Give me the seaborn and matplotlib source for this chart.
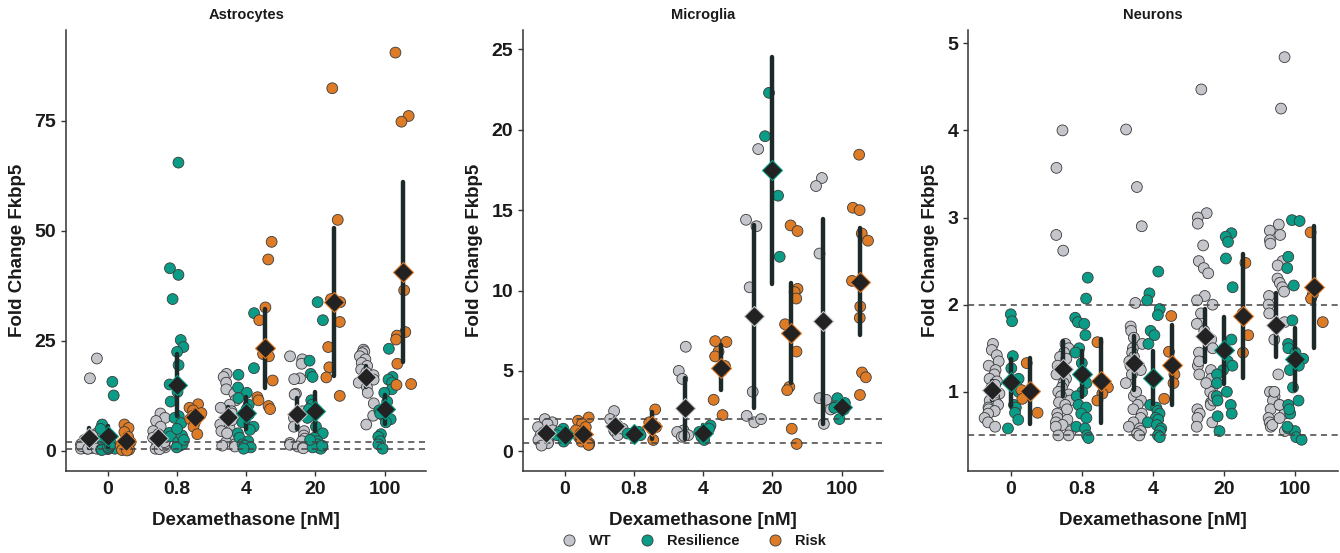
import numpy as np
import pandas as pd
import seaborn as sns
import matplotlib.pyplot as plt
from matplotlib.lines import Line2D

# dose levels and genotypes
doses = ["0", "0.8", "4", "20", "100"]
genotypes = ["WT", "Resilience", "Risk"]
colors = ["#c4c6cc", "#0a9c86", "#de7b26"]

# fold change values, one sublist per dose
astro_wt = [
    [21, 16.5, 4, 3, 3.5, 2.5, 2, 1.5, 1.2, 1, 1, 0.9, 0.8, 0.8, 0.7, 0.6, 0.5, 0.5, 1.1, 0.9, 0.5, 0.5],
    [8.5, 7.5, 6.8, 5.5, 4.5, 3.8, 3, 2.3, 1.8, 1.4, 1, 0.8, 0.6, 0.5, 0.4, 1.2, 2],
    [17.5, 16.8, 15.5, 14, 13, 11.5, 10.5, 9.8, 9, 8.2, 7.5, 6.8, 6, 5.2, 4.5, 3.5, 2.5, 2, 1.5, 1.2, 1, 4, 7, 8.5],
    [21.5, 20.8, 19.8, 16.5, 16.3, 13, 12.8, 9, 7.5, 5.5, 4.5, 3.5, 2.8, 2.2, 1.8, 1.4, 1.0, 0.8, 0.6],
    [23, 22.6, 22.2, 21.5, 20.8, 20, 19.3, 18.5, 17.8, 17.2, 16.8, 16.2, 15.5, 14.5, 13.2, 10.8, 8, 6],
]
astro_res = [
    [15.7, 12.6, 6, 5, 3.5, 2.5, 1.5, 1, 0.8, 0.5, 0.4, 0.3, 0.2, 0.6, 0.9, 1.2],
    [65.5, 41.5, 40, 34.5, 25.2, 23.6, 22.5, 19.5, 15.1, 13.4, 11.2, 7.9, 7.5, 6.3, 4.1, 3.3, 1.2, 1.0, 2.0, 1.5, 0.8, 3.5, 5, 2.5],
    [31.3, 18.8, 17.3, 14.4, 13.2, 12, 10.5, 9.5, 8.3, 7.2, 6.5, 5.5, 4.8, 4, 3, 2.2, 1.5, 1.2, 0.8, 0.5],
    [33.8, 29.7, 20.5, 17.5, 16.8, 11.5, 10.5, 9.5, 8.5, 7.5, 5.5, 4, 3, 2.2, 1.5, 1, 0.7, 0.5, 0.8, 1.2, 2.5],
    [23.2, 16.8, 16.2, 15.5, 14, 13.2, 11.2, 9.2, 8, 7.2, 6.5, 3.8, 3.2, 2.2, 1.5, 8.5, 0.5],
]
astro_risk = [
    [6, 5.2, 4.3, 3.2, 2.0, 1.2, 0.8, 0.5, 0.3, 0.2, 0.1],
    [10.6, 9.8, 9.2, 8.6, 8.0, 7.2, 6.5, 5.5, 3.8],
    [47.5, 43.5, 32.6, 29.7, 22, 21.5, 16, 12.2, 11.5, 10.2, 9.5],
    [82.4, 52.5, 34.5, 33.8, 29.3, 23.6, 19, 16.7, 12.5],
    [90.5, 76.1, 74.8, 36.5, 27, 26.2, 25.3, 19.8, 15.2, 15],
]

micro_wt = [
    [2.0, 1.8, 1.7, 1.5, 1.3, 1.2, 1.0, 0.9, 0.8, 0.7, 0.6, 0.5, 0.35],
    [2.5, 2.0, 1.6, 1.3, 1.2, 1.0, 1.4],
    [6.5, 5.0, 4.5, 1.3, 1.2, 1.0, 0.9, 0.95],
    [18.8, 14.4, 14.0, 10.2, 3.7, 2.2, 1.8, 2.0],
    [17.0, 16.5, 12.3, 3.3, 3.2, 2.6, 1.7],
]
micro_res = [
    [1.4, 1.2, 1.0, 0.8, 0.6],
    [1.2, 1.1, 1.0],
    [1.6, 1.4, 1.2, 0.9, 0.7],
    [22.3, 19.6, 15.9, 12.1],
    [3.3, 3.0, 2.8, 2.7, 2.6, 2.0],
]
micro_risk = [
    [2.1, 1.9, 1.7, 1.5, 1.3, 1.1, 1.0, 0.9, 0.8, 0.7, 0.6, 0.5, 0.4, 0.4],
    [2.6, 1.8, 1.5, 1.4, 0.7],
    [6.85, 6.8, 6.2, 5.9, 5.3, 5.0, 3.2, 2.25],
    [14.05, 13.7, 10.1, 9.9, 9.5, 7.9, 6.2, 4.0, 3.8, 1.4, 0.45],
    [18.45, 15.15, 15.0, 13.55, 13.1, 10.6, 9.0, 8.3, 4.9, 4.6, 3.5],
]

neuro_wt = [
    [1.55, 1.48, 1.42, 1.35, 1.3, 1.25, 1.2, 1.15, 1.12, 1.08, 1.05, 1.0, 0.98, 0.95, 0.92,
     0.9, 0.87, 0.85, 0.82, 0.8, 0.78, 0.75, 0.7, 0.65, 0.6],
    [4.0, 3.57, 2.8, 2.62, 1.55, 1.5, 1.45, 1.4, 1.38, 1.3, 1.25, 1.2, 1.15, 1.1, 1.05, 1.0,
     0.97, 0.95, 0.9, 0.88, 0.85, 0.8, 0.75, 0.7, 0.68, 0.65, 0.62, 0.6, 0.55, 0.5, 0.5],
    [4.01, 3.35, 2.9, 2.02, 1.75, 1.7, 1.62, 1.55, 1.5, 1.45, 1.4, 1.35, 1.3, 1.28, 1.25, 1.2,
     0.95, 0.9, 0.85, 0.8, 0.75, 0.7, 0.65, 0.6, 0.58, 0.55, 0.52, 0.5, 1.1, 1.0],
    [4.47, 3.05, 3.0, 2.93, 2.68, 2.5, 2.42, 2.36, 2.1, 2.05, 2.0, 1.9, 1.78, 1.7, 1.6, 1.5, 1.45,
     1.3, 1.25, 1.15, 1.05, 1.0, 0.88, 0.85, 0.8, 0.75, 0.7, 0.6, 0.9, 0.95, 1.1, 1.2, 1.35, 0.65],
    [4.84, 4.25, 2.92, 2.85, 2.8, 2.74, 2.7, 2.5, 2.45, 2.3, 2.25, 2.2, 2.15, 2.1, 2.0, 1.9, 1.8,
     1.75, 1.6, 1.2, 1.0, 0.95, 0.9, 0.85, 0.8, 0.75, 0.7, 0.65, 0.6, 0.55, 0.62, 0.7, 0.85, 1.0],
]
neuro_res = [
    [1.89, 1.81, 1.41, 1.27, 1.15, 1.08, 1.0, 0.85, 0.82, 0.76, 0.68, 0.58],
    [2.31, 2.07, 1.85, 1.8, 1.78, 1.65, 1.5, 1.45, 1.33, 1.1, 1.0, 0.95, 0.85, 0.82, 0.75, 0.7,
     0.6, 0.58, 0.5, 0.47],
    [2.38, 2.13, 2.05, 1.95, 1.88, 1.7, 1.65, 1.55, 0.85, 0.82, 0.78, 0.75, 0.7, 0.68, 0.65, 0.62,
     0.58, 0.55, 0.5, 0.48],
    [2.82, 2.78, 2.72, 2.53, 1.35, 1.3, 1.25, 1.2, 1.1, 1.0, 0.95, 0.9, 0.85, 0.75, 0.72, 0.55, 2.2, 1.6],
    [2.97, 2.96, 2.55, 2.42, 2.22, 1.82, 1.55, 1.5, 1.45, 1.38, 1.3, 1.25, 1.05, 0.9, 0.85, 0.75,
     0.58, 0.55, 0.48, 0.45, 0.6, 0.8],
]
neuro_risk = [
    [1.33, 1.02, 0.92, 0.76],
    [1.57, 1.05, 0.98, 0.9],
    [1.87, 1.46, 1.2, 1.1, 0.92],
    [2.48, 1.9, 1.65, 1.45],
    [2.83, 2.12, 2.07, 1.8],
]

panels = [
    ("Astrocytes", [astro_wt, astro_res, astro_risk], (-4.6, 95.6), [0, 25, 50, 75]),
    ("Microglia", [micro_wt, micro_res, micro_risk], (-1.24, 26.2), [0, 5, 10, 15, 20, 25]),
    ("Neurons", [neuro_wt, neuro_res, neuro_risk], (0.09, 5.15), [1, 2, 3, 4, 5]),
]

# two-sided 95% t quantiles by degrees of freedom
T975 = {1: 12.706, 2: 4.303, 3: 3.182, 4: 2.776, 5: 2.571, 6: 2.447, 7: 2.365, 8: 2.306,
        9: 2.262, 10: 2.228, 11: 2.201, 12: 2.179, 13: 2.160, 14: 2.145, 15: 2.131,
        16: 2.120, 17: 2.110, 18: 2.101, 19: 2.093, 20: 2.086, 21: 2.080, 22: 2.074,
        23: 2.069, 24: 2.064, 25: 2.060, 26: 2.056, 27: 2.052, 28: 2.048, 29: 2.045, 30: 2.042}


def t_ci(v):
    v = np.asarray(v, dtype=float)
    n = len(v)
    m = v.mean()
    se = v.std(ddof=1) / np.sqrt(n)
    t = T975.get(n - 1, 2.02)
    return m - t * se, m + t * se


sns.set_theme(style="ticks")
plt.rcParams["font.family"] = ["Liberation Sans", "DejaVu Sans"]
plt.rcParams["font.weight"] = "bold"
plt.rcParams["text.color"] = "#1a1a1a"
plt.rcParams["axes.labelcolor"] = "#1a1a1a"
plt.rcParams["xtick.color"] = "#1a1a1a"
plt.rcParams["ytick.color"] = "#1a1a1a"

fig = plt.figure(figsize=(13.4, 5.53), dpi=100)
lefts = [0.0493, 0.3903, 0.7224]
widths = [0.2687, 0.2687, 0.2762]
np.random.seed(4)

for i, (title, groups, ylim, yticks) in enumerate(panels):
    rows = []
    for g, per_dose in zip(genotypes, groups):
        for d, vals in zip(doses, per_dose):
            for v in vals:
                rows.append({"dose": d, "genotype": g, "fc": v})
    df = pd.DataFrame(rows)

    ax = fig.add_axes([lefts[i], 0.148, widths[i], 0.7975])
    ax.axhline(0.5, color="#444444", ls=(0, (4, 3)), lw=1.1, zorder=0)
    ax.axhline(2, color="#444444", ls=(0, (4, 3)), lw=1.1, zorder=0)

    sns.stripplot(data=df, x="dose", y="fc", hue="genotype", order=doses,
                  hue_order=genotypes, palette=colors, dodge=True, jitter=0.36,
                  size=7.8, linewidth=0.6, edgecolor="#3a3a3a", legend=False, ax=ax)
    sns.pointplot(data=df, x="dose", y="fc", hue="genotype", order=doses,
                  hue_order=genotypes, palette=["#222222"] * 3, dodge=0.8 * 2 / 3,
                  errorbar=t_ci, markers="D", markersize=10.5, linestyle="none",
                  err_kws={"linewidth": 3.2, "color": "#1e2a2a"}, legend=False, ax=ax)

    k = 0
    for ln in ax.lines:
        if ln.get_marker() == "D":
            ln.set_markeredgecolor(colors[k % 3])
            ln.set_markeredgewidth(0.8)
            ln.set_zorder(6)
            k += 1
        elif ln.get_marker() in ("None", None, ""):
            ln.set_zorder(5)

    ax.set_xlim(-0.6, 4.6)
    ax.set_ylim(*ylim)
    ax.set_yticks(yticks)
    ax.set_title(title, fontsize=10.5, fontweight="bold", pad=8)
    ax.set_xlabel("Dexamethasone [nM]", fontsize=13.5, fontweight="bold", labelpad=10)
    ax.set_ylabel("Fold Change Fkbp5", fontsize=13.5, fontweight="bold", labelpad=6)
    ax.tick_params(labelsize=14, length=3.5, width=1, color="#333333")
    for t in ax.get_xticklabels() + ax.get_yticklabels():
        t.set_fontweight("bold")
    for s in ["left", "bottom"]:
        ax.spines[s].set_color("#333333")
        ax.spines[s].set_linewidth(1.1)
    sns.despine(ax=ax)

handles = [Line2D([], [], marker="o", ls="none", markersize=8, markerfacecolor=c,
                  markeredgecolor="#3a3a3a", markeredgewidth=0.6) for c in colors]
fig.legend(handles, genotypes, loc="lower center", bbox_to_anchor=(0.515, -0.015), ncol=3,
           frameon=False, prop={"weight": "bold", "size": 10.5}, handletextpad=0.4,
           columnspacing=1.4)

fig.savefig("out.png", dpi=100)
